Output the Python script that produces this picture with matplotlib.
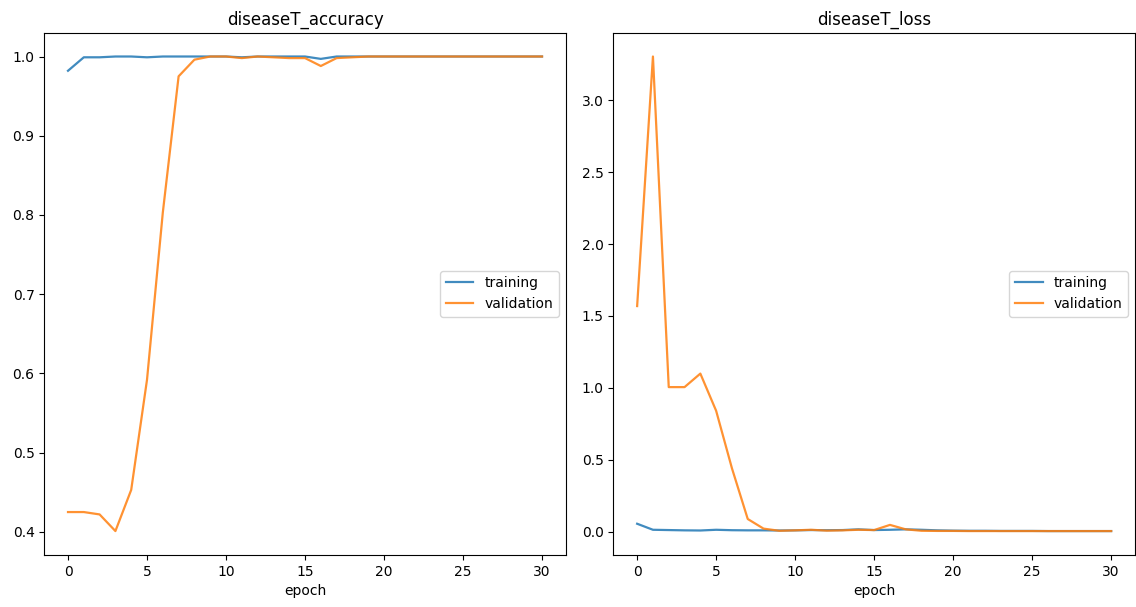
import matplotlib
matplotlib.use("Agg")
import matplotlib.pyplot as plt
import numpy as np

epochs = np.arange(31)

acc_train = [0.982, 0.999, 0.999, 1.0, 1.0, 0.999, 1.0, 1.0, 1.0, 1.0, 1.0,
             0.999, 1.0, 1.0, 1.0, 1.0, 0.997, 1.0, 1.0, 1.0, 1.0,
             1.0, 1.0, 1.0, 1.0, 1.0, 1.0, 1.0, 1.0, 1.0, 1.0]
acc_val = [0.425, 0.425, 0.422, 0.401, 0.453, 0.592, 0.803, 0.975, 0.996, 1.0, 1.0,
           0.998, 1.0, 0.999, 0.998, 0.998, 0.988, 0.998, 0.999, 1.0, 1.0,
           1.0, 1.0, 1.0, 1.0, 1.0, 1.0, 1.0, 1.0, 1.0, 1.0]

loss_train = [0.054, 0.012, 0.010, 0.008, 0.007, 0.012, 0.009, 0.008, 0.008, 0.007, 0.008,
              0.010, 0.009, 0.010, 0.015, 0.010, 0.012, 0.015, 0.012, 0.008, 0.006,
              0.005, 0.005, 0.004, 0.004, 0.004, 0.003, 0.003, 0.003, 0.003, 0.003]
loss_val = [1.569, 3.306, 1.005, 1.005, 1.099, 0.840, 0.440, 0.087, 0.020, 0.005, 0.008,
            0.012, 0.006, 0.008, 0.012, 0.010, 0.046, 0.015, 0.005, 0.004, 0.004,
            0.003, 0.003, 0.003, 0.003, 0.003, 0.003, 0.003, 0.003, 0.003, 0.003]

fig = plt.figure(figsize=(11.36, 6.07), dpi=100)
ax1 = fig.add_axes([0.039, 0.086, 0.459, 0.860])
ax2 = fig.add_axes([0.540, 0.086, 0.459, 0.860])

panels = [
    (ax1, "diseaseT_accuracy", acc_train, acc_val),
    (ax2, "diseaseT_loss", loss_train, loss_val),
]
for ax, title, tr, va in panels:
    ax.plot(epochs, tr, label="training", linewidth=1.6, alpha=0.85)
    ax.plot(epochs, va, label="validation", linewidth=1.6, alpha=0.85)
    ax.set_title(title, fontsize=12)
    ax.set_xlabel("epoch", fontsize=10)
    ax.legend(loc="center right", fontsize=10)
    ax.tick_params(labelsize=10)

fig.savefig("out.png", dpi=100)
